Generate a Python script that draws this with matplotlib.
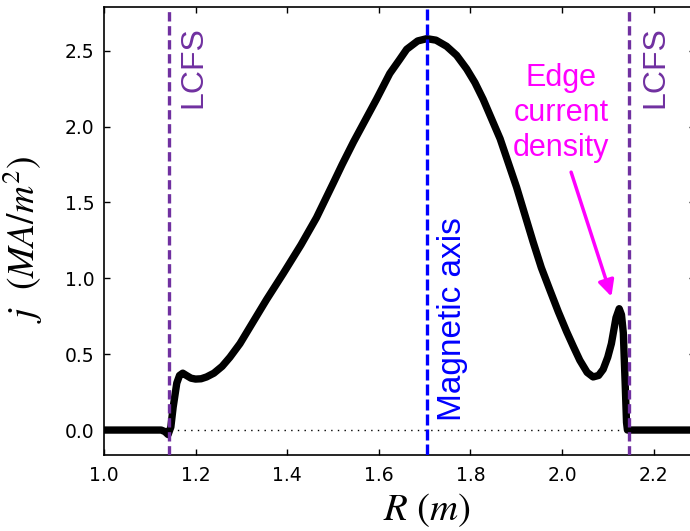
import matplotlib
matplotlib.use("Agg")
import matplotlib.pyplot as plt

# current density profile
R = [1.00, 1.10, 1.125, 1.133, 1.140, 1.146, 1.151, 1.159, 1.165, 1.172,
     1.180, 1.190, 1.200, 1.212, 1.224, 1.240, 1.258, 1.275, 1.297, 1.319,
     1.355, 1.391, 1.430, 1.464, 1.501, 1.520, 1.545, 1.570, 1.595, 1.624,
     1.645, 1.661, 1.685, 1.705, 1.725, 1.748, 1.770, 1.792, 1.810, 1.828,
     1.865, 1.901, 1.937, 1.955, 1.974, 1.992, 2.010, 2.025, 2.039, 2.055,
     2.068, 2.080, 2.090, 2.100, 2.108, 2.118, 2.125, 2.130, 2.134, 2.138,
     2.141, 2.143, 2.30]
j = [0.0, 0.0, 0.0, -0.01, -0.03, 0.02, 0.15, 0.31, 0.36, 0.375,
     0.36, 0.342, 0.336, 0.338, 0.35, 0.375, 0.42, 0.48, 0.57, 0.68,
     0.86, 1.03, 1.22, 1.40, 1.63, 1.75, 1.90, 2.04, 2.18, 2.35,
     2.44, 2.51, 2.565, 2.58, 2.57, 2.53, 2.47, 2.38, 2.29, 2.18,
     1.92, 1.60, 1.24, 1.07, 0.92, 0.78, 0.65, 0.55, 0.46, 0.38,
     0.35, 0.36, 0.40, 0.48, 0.57, 0.74, 0.80, 0.76, 0.64, 0.31,
     0.05, 0.0, 0.0]

lcfs_left = 1.142
lcfs_right = 2.147
mag_axis = 1.705

xticks = [1.0, 1.2, 1.4, 1.6, 1.8, 2.0, 2.2]
yticks = [0.0, 0.5, 1.0, 1.5, 2.0, 2.5]

purple = '#7030a0'
magenta = '#ff00ff'

plt.rcParams['mathtext.fontset'] = 'stix'

fig = plt.figure(figsize=(6.9, 5.31), dpi=100)
ax = fig.add_axes([0.1507, 0.1424, 0.8562, 0.8448])

ax.axhline(0, color='black', lw=1.0, linestyle=(0, (1, 3.8)), zorder=1)
ax.plot(R, j, color='black', lw=5.3, solid_joinstyle='round',
        solid_capstyle='round', zorder=3)

for r in (lcfs_left, lcfs_right):
    ax.axvline(r, color=purple, lw=2.4, linestyle=(0, (2.8, 1.4)), zorder=4)
ax.axvline(mag_axis, color='blue', lw=2.4, linestyle=(0, (3.3, 1.2)), zorder=4)

ax.text(1.195, 2.66, 'LCFS', rotation=90, color=purple, fontsize=23,
        family='Liberation Sans', ha='center', va='top')
ax.text(2.205, 2.66, 'LCFS', rotation=90, color=purple, fontsize=23,
        family='Liberation Sans', ha='center', va='top')
ax.text(1.760, 0.06, 'Magnetic axis', rotation=90, color='blue', fontsize=24,
        family='Liberation Sans', ha='center', va='bottom')
ax.text(1.998, 2.42, 'Edge\ncurrent\ndensity', color=magenta, fontsize=22,
        family='Liberation Sans', ha='center', va='top', linespacing=1.22)
ax.annotate('', xy=(2.108, 0.88), xytext=(2.020, 1.70),
            arrowprops=dict(arrowstyle='-|>', color=magenta, lw=2.5,
                            mutation_scale=24, shrinkA=0, shrinkB=0))

ax.set_xlim(1.0, 2.29)
ax.set_ylim(-0.167, 2.79)
ax.set_xticks(xticks)
ax.set_yticks(yticks)
ax.tick_params(direction='in', top=True, right=True, length=4, width=1,
               labelsize=13.5)
ax.tick_params(axis='x', pad=8)
ax.tick_params(axis='y', pad=7)
for s in ax.spines.values():
    s.set_linewidth(1.2)

ax.set_xlabel(r'$R\ (m)$', fontsize=28)
ax.set_ylabel(r'$j\ \ (MA/m^2)$', fontsize=27)
ax.xaxis.set_label_coords(0.546, -0.08)
ax.yaxis.set_label_coords(-0.1, 0.482)

fig.savefig('out.png', dpi=100)
